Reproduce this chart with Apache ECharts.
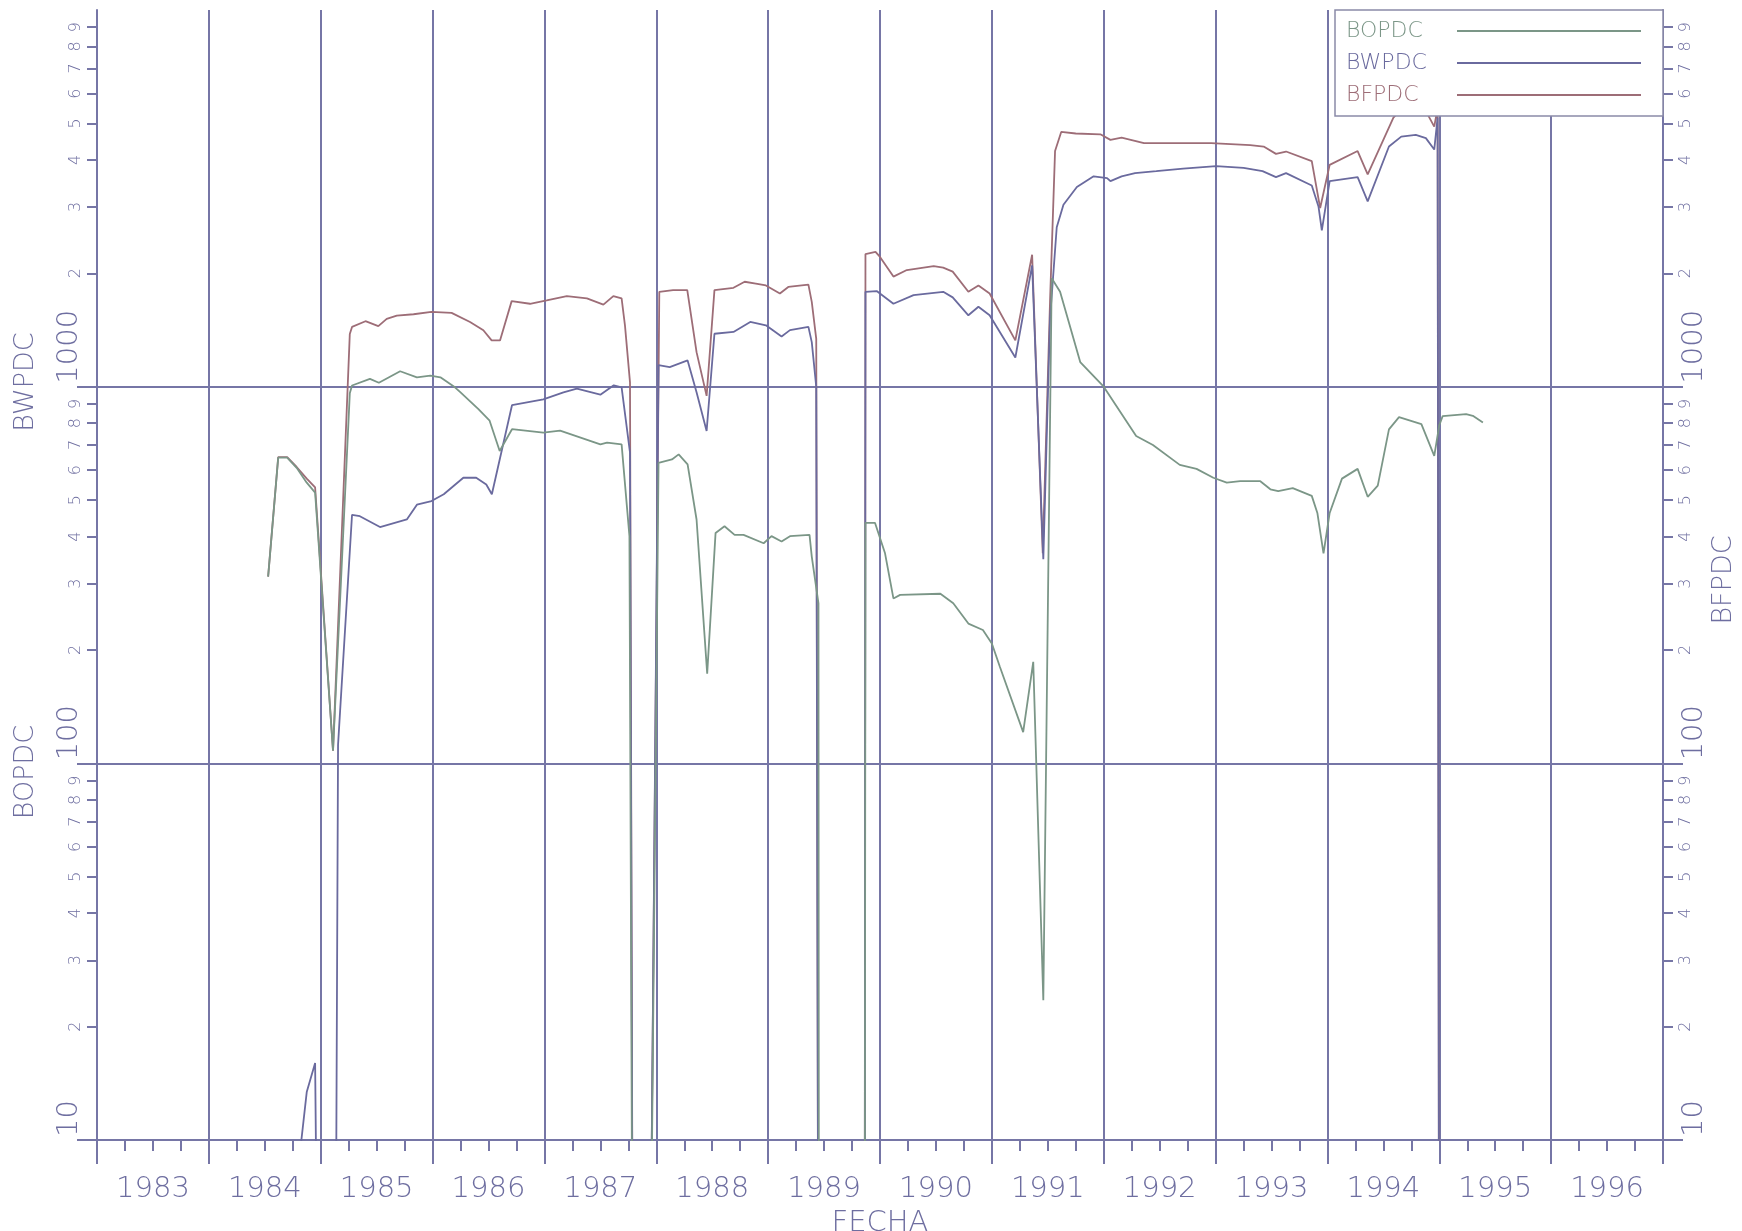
<!DOCTYPE html>
<html>
<head>
<meta charset="utf-8">
<title>BOPDC / BWPDC / BFPDC</title>
<script src="https://cdn.jsdelivr.net/npm/echarts@6/dist/echarts.min.js"></script>
<style>
  html, body { margin: 0; padding: 0; background: #ffffff; }
  #chart { width: 1742px; height: 1231px; }
</style>
</head>
<body>
<div id="chart"></div>
<script>
// Daily rates (calendar-day basis) against date in decimal years.
// Months with no production are stored as 1 so the trace leaves the plot
// through the bottom edge of the logarithmic scale.
const bopdc = [
  [1984.53, 313], [1984.62, 648], [1984.70, 648], [1984.785, 609], [1984.875, 556], [1984.95, 523],
  [1985.11, 108], [1985.26, 960], [1985.28, 1007], [1985.44, 1049], [1985.52, 1024], [1985.71, 1099],
  [1985.86, 1059], [1985.98, 1070], [1986.07, 1059], [1986.20, 996], [1986.25, 966], [1986.41, 872],
  [1986.51, 812], [1986.60, 675], [1986.71, 771], [1986.99, 755], [1987.14, 764], [1987.50, 703],
  [1987.56, 710], [1987.69, 703], [1987.76, 401], [1987.795, 1], [1987.93, 1], [1988.02, 628],
  [1988.14, 641], [1988.20, 661], [1988.28, 622], [1988.36, 444], [1988.455, 173], [1988.53, 409],
  [1988.61, 426], [1988.70, 404], [1988.78, 404], [1988.96, 384], [1989.03, 401], [1989.12, 388],
  [1989.195, 401], [1989.37, 404], [1989.39, 354], [1989.45, 266], [1989.455, 1], [1989.862, 1],
  [1989.87, 435], [1989.955, 435], [1990.045, 361], [1990.12, 274], [1990.18, 280], [1990.54, 282],
  [1990.655, 266], [1990.79, 235], [1990.92, 226], [1991.00, 208], [1991.07, 181], [1991.28, 121],
  [1991.37, 186], [1991.46, 23.5], [1991.535, 1940], [1991.61, 1786], [1991.79, 1162], [1992.00, 1000],
  [1992.29, 740], [1992.44, 700], [1992.68, 620], [1992.83, 605], [1992.98, 573], [1993.10, 556],
  [1993.22, 561], [1993.40, 561], [1993.49, 534], [1993.56, 528], [1993.69, 538], [1993.86, 513],
  [1993.91, 462], [1993.965, 361], [1994.02, 462], [1994.13, 570], [1994.27, 605], [1994.36, 510],
  [1994.45, 546], [1994.55, 770], [1994.64, 830], [1994.84, 795], [1994.955, 655], [1995.00, 790],
  [1995.03, 835], [1995.24, 845], [1995.30, 837], [1995.39, 803]
];

const bwpdc = [
  [1984.81, 9], [1984.875, 13.4], [1984.95, 16], [1984.99, 1], [1985.125, 1], [1985.155, 112],
  [1985.28, 457], [1985.35, 453], [1985.53, 424], [1985.77, 444], [1985.86, 486], [1985.99, 497],
  [1986.10, 518], [1986.275, 573], [1986.39, 573], [1986.48, 550], [1986.53, 518], [1986.71, 893],
  [1986.99, 925], [1987.17, 966], [1987.29, 988], [1987.50, 952], [1987.62, 1008], [1987.69, 996],
  [1987.765, 668], [1987.795, 1], [1987.93, 1], [1988.02, 1140], [1988.12, 1127], [1988.28, 1174],
  [1988.36, 966], [1988.45, 763], [1988.52, 1382], [1988.69, 1397], [1988.84, 1485], [1988.98, 1455],
  [1989.12, 1359], [1989.195, 1413], [1989.36, 1441], [1989.39, 1313], [1989.43, 1000], [1989.452, 1],
  [1989.862, 1], [1989.87, 1786], [1989.97, 1794], [1990.12, 1660], [1990.30, 1750], [1990.565, 1786],
  [1990.65, 1726], [1990.79, 1547], [1990.88, 1630], [1990.98, 1547], [1991.21, 1195], [1991.36, 2100],
  [1991.46, 348], [1991.52, 1514], [1991.58, 2650], [1991.64, 3040], [1991.76, 3389], [1991.91, 3617],
  [1992.03, 3580], [1992.06, 3512], [1992.16, 3617], [1992.28, 3690], [1992.47, 3733], [1992.71, 3790],
  [1993.005, 3850], [1993.25, 3810], [1993.42, 3733], [1993.54, 3600], [1993.63, 3690], [1993.86, 3420],
  [1993.92, 3010], [1993.95, 2600], [1994.02, 3512], [1994.27, 3600], [1994.36, 3105], [1994.55, 4340],
  [1994.66, 4610], [1994.79, 4660], [1994.88, 4570], [1994.955, 4260], [1994.985, 5180], [1995.00, 1]
];

const bfpdc = [
  [1984.53, 313], [1984.62, 650], [1984.70, 650], [1984.785, 612], [1984.875, 570], [1984.95, 540],
  [1985.11, 108], [1985.26, 1380], [1985.28, 1441], [1985.40, 1492], [1985.515, 1448], [1985.59, 1513],
  [1985.68, 1544], [1985.83, 1557], [1985.99, 1579], [1986.17, 1570], [1986.335, 1485], [1986.454, 1412],
  [1986.528, 1327], [1986.603, 1327], [1986.707, 1687], [1986.871, 1660], [1987.02, 1695], [1987.20, 1740],
  [1987.38, 1715], [1987.527, 1651], [1987.616, 1740], [1987.69, 1715], [1987.72, 1455], [1987.765, 1027],
  [1987.795, 1], [1987.93, 1], [1988.027, 1786], [1988.15, 1805], [1988.277, 1805], [1988.36, 1235],
  [1988.45, 945], [1988.52, 1805], [1988.69, 1830], [1988.79, 1899], [1988.89, 1878], [1988.98, 1857],
  [1989.105, 1768], [1989.18, 1840], [1989.36, 1866], [1989.39, 1680], [1989.43, 1340], [1989.452, 1],
  [1989.862, 1], [1989.87, 2250], [1989.96, 2280], [1990.00, 2210], [1990.12, 1960], [1990.24, 2040],
  [1990.48, 2090], [1990.565, 2070], [1990.65, 2020], [1990.79, 1786], [1990.88, 1857], [1990.98, 1768],
  [1991.21, 1327], [1991.36, 2240], [1991.455, 361], [1991.52, 1680], [1991.565, 4222], [1991.62, 4745],
  [1991.75, 4700], [1991.97, 4677], [1992.06, 4520], [1992.16, 4580], [1992.36, 4430], [1992.96, 4430],
  [1993.31, 4380], [1993.43, 4340], [1993.54, 4150], [1993.63, 4210], [1993.86, 3970], [1993.935, 2980],
  [1994.02, 3880], [1994.27, 4222], [1994.36, 3660], [1994.59, 5180], [1994.70, 5600], [1994.85, 5600],
  [1994.955, 4900], [1994.985, 5500], [1995.00, 1]
];

// Axis ranges and tick values
const yearRange = [1983, 1997];
const rateRange = [10, 10000];
const decadeTicks = [10, 100, 1000];
const minorTicks = [20, 30, 40, 50, 60, 70, 80, 90,
                    200, 300, 400, 500, 600, 700, 800, 900,
                    2000, 3000, 4000, 5000, 6000, 7000, 8000, 9000];

const AXIS = '#7676a6';
const TEXT = '#6e6ea0';
const C_BO = '#7b9687';
const C_BW = '#6a6a9e';
const C_BF = '#9d6d77';
const FONT = '"DejaVu Sans", "Liberation Sans", sans-serif';

const axisLine = { color: AXIS, width: 2 };

function decadeAxis(position, margin, withSplit) {
  return {
    type: 'log', logBase: 10, min: rateRange[0], max: rateRange[1], position: position,
    axisLine: { show: true, lineStyle: axisLine },
    axisTick: { show: true, length: 20, customValues: decadeTicks, lineStyle: axisLine },
    axisLabel: {
      customValues: decadeTicks, rotate: 90, align: 'left', verticalAlign: 'middle',
      padding: [0, 0, 0, 3], margin: margin, fontSize: 29, color: TEXT, fontFamily: FONT,
      fontWeight: 300,
      formatter: v => (v >= 10000 ? '' : String(Math.round(v)))
    },
    splitLine: { show: withSplit, lineStyle: { color: AXIS, width: 2 } }
  };
}

function minorAxis(position, margin) {
  return {
    type: 'log', logBase: 10, min: rateRange[0], max: rateRange[1], position: position,
    axisLine: { show: false },
    axisTick: { show: true, length: 10, customValues: minorTicks, lineStyle: axisLine },
    axisLabel: {
      customValues: minorTicks, rotate: 90, align: 'center', verticalAlign: 'middle',
      margin: margin, fontSize: 16, color: TEXT, fontFamily: FONT, fontWeight: 300,
      formatter: v => String(Math.round(v)).charAt(0)
    },
    splitLine: { show: false }
  };
}

function lineSeries(name, data, color, yIndex, z) {
  return {
    name: name, type: 'line', data: data, xAxisIndex: 0, yAxisIndex: yIndex,
    symbol: 'none', showSymbol: false, clip: true, z: z,
    lineStyle: { color: color, width: 1.8 },
    itemStyle: { color: color },
    emphasis: { disabled: true }
  };
}

function legendItem(name, color) {
  return { name: name, textStyle: { color: color, rich: { n: { color: color } } } };
}

const chart = echarts.init(document.getElementById('chart'), null, { renderer: 'canvas' });

chart.setOption({
  animation: false,
  backgroundColor: '#ffffff',
  textStyle: { fontFamily: FONT },
  grid: { left: 97, top: 10, width: 1566, height: 1130, containLabel: false, outerBoundsMode: 'none' },
  legend: {
    data: [legendItem('BOPDC', C_BO), legendItem('BWPDC', C_BW), legendItem('BFPDC', C_BF)],
    orient: 'vertical', align: 'right', right: 79, top: 10,
    padding: [9, 22, 9, 11], itemGap: 8, itemWidth: 184, itemHeight: 2, icon: 'rect',
    backgroundColor: '#ffffff', borderColor: '#8a8aa8', borderWidth: 1.5, borderRadius: 0,
    formatter: '{n|{name}}',
    textStyle: {
      fontSize: 22, lineHeight: 24, padding: [0, 26, 0, 0], fontFamily: FONT, fontWeight: 300,
      rich: { n: { width: 80, align: 'left', fontSize: 22, lineHeight: 24, fontFamily: FONT, fontWeight: 300 } }
    },
    selectedMode: false
  },
  xAxis: [
    {
      type: 'value', min: yearRange[0], max: yearRange[1], interval: 0.25, position: 'bottom',
      axisLine: { show: true, lineStyle: axisLine },
      axisTick: { show: true, length: 11, lineStyle: axisLine },
      axisLabel: {
        margin: 35, fontSize: 29, color: TEXT, fontFamily: FONT, fontWeight: 300,
        formatter: v => (Math.abs(v - Math.floor(v) - 0.5) < 1e-6 ? String(Math.floor(v)) : '')
      },
      splitLine: { show: false },
      name: 'FECHA', nameLocation: 'middle', nameGap: 57,
      nameTextStyle: { fontSize: 29, color: TEXT, fontFamily: FONT, fontWeight: 300 }
    },
    {
      type: 'value', min: yearRange[0], max: yearRange[1], interval: 1, position: 'bottom',
      axisLine: { show: false },
      axisTick: { show: true, length: 24, lineStyle: axisLine },
      axisLabel: { show: false },
      splitLine: { show: true, lineStyle: { color: AXIS, width: 2 } }
    }
  ],
  yAxis: [
    decadeAxis('left', 28, true),
    minorAxis('left', 21),
    decadeAxis('right', 31, false),
    minorAxis('right', 23)
  ],
  graphic: [
    { type: 'text', x: 26, y: 382, rotation: Math.PI / 2,
      style: { text: 'BWPDC', fill: TEXT, font: '300 27px ' + FONT, align: 'center', verticalAlign: 'middle' } },
    { type: 'text', x: 26, y: 772, rotation: Math.PI / 2,
      style: { text: 'BOPDC', fill: TEXT, font: '300 27px ' + FONT, align: 'center', verticalAlign: 'middle' } },
    { type: 'text', x: 1724, y: 580, rotation: Math.PI / 2,
      style: { text: 'BFPDC', fill: TEXT, font: '300 27px ' + FONT, align: 'center', verticalAlign: 'middle' } }
  ],
  series: [
    lineSeries('BOPDC', bopdc, C_BO, 0, 5),
    lineSeries('BWPDC', bwpdc, C_BW, 0, 4),
    lineSeries('BFPDC', bfpdc, C_BF, 2, 3)
  ]
});
</script>
</body>
</html>
